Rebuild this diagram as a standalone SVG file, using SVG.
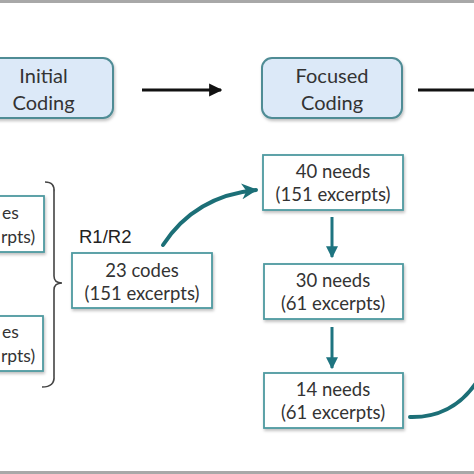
<svg xmlns="http://www.w3.org/2000/svg" width="474" height="474" viewBox="0 0 474 474">
<style>
.stage{fill:#dce9f8;stroke:#4f8c95;stroke-width:2}
.box{fill:#ffffff;stroke:#4e9aa0;stroke-width:1.8}
.t{font-family:Lato,"Open Sans","Liberation Sans",sans-serif;fill:#333;text-anchor:middle}
.s{text-anchor:start;font-size:17.5px}
.st{font-size:20px}
.bt{font-size:18.5px}
.blk{fill:none;stroke:#111;stroke-width:3}
.teal{fill:none;stroke:#1c6f77;stroke-width:4;stroke-linecap:round}
.tealv{fill:none;stroke:#1e7480;stroke-width:3}
</style>
<defs>
<filter id="sh" x="-10%" y="-10%" width="130%" height="140%">
<feDropShadow dx="1" dy="2" stdDeviation="1.5" flood-color="#000" flood-opacity="0.25"/>
</filter>
<marker id="ab" viewBox="0 0 10 10" refX="9" refY="5" markerWidth="4.4" markerHeight="5" markerUnits="strokeWidth" orient="auto">
<path d="M0,0 L10,5 L0,10 z" fill="#111"/>
</marker>
<marker id="at" viewBox="0 0 10 10" refX="9" refY="5" markerWidth="4" markerHeight="4" markerUnits="strokeWidth" orient="auto">
<path d="M0,0 L10,5 L0,10 L3,5 z" fill="#1c6f77"/>
</marker>
<marker id="av" viewBox="0 0 10 10" refX="9" refY="5" markerWidth="4" markerHeight="4" markerUnits="strokeWidth" orient="auto">
<path d="M0,0 L10,5 L0,10 z" fill="#1e7480"/>
</marker>
</defs>
<rect x="0" y="0" width="474" height="474" fill="#ffffff"/>
<rect x="0" y="0" width="474" height="3" fill="#a8a8a8"/>
<rect x="0" y="471" width="474" height="3" fill="#a8a8a8"/>

<g id="initial-coding">
<rect class="stage" x="-27" y="58" width="140" height="60" rx="10" filter="url(#sh)"/>
<text class="t st" x="43.5" y="83">Initial</text>
<text class="t st" x="43.5" y="110">Coding</text>
</g>
<g id="focused-coding">
<rect class="stage" x="262" y="58" width="140" height="60" rx="10" filter="url(#sh)"/>
<text class="t st" x="332" y="83">Focused</text>
<text class="t st" x="332" y="110">Coding</text>
</g>
<g id="left-box-1">
<rect class="box" x="-100" y="196" width="144" height="56" filter="url(#sh)"/>
<text class="t s" x="2" y="219">es</text>
<text class="t s" x="1" y="243">rpts)</text>
</g>
<g id="left-box-2">
<rect class="box" x="-100" y="316" width="143" height="55" filter="url(#sh)"/>
<text class="t s" x="2" y="338">es</text>
<text class="t s" x="1" y="362">rpts)</text>
</g>
<g id="r1r2-label">
<text x="79" y="243" font-family="'Liberation Sans',Arial,sans-serif" font-size="18.5" fill="#222">R1/R2</text>
</g>
<g id="codes-23">
<rect class="box" x="72" y="253" width="140" height="55" filter="url(#sh)"/>
<text class="t bt" x="142" y="277">23 codes</text>
<text class="t bt" x="142" y="300">(151 excerpts)</text>
</g>
<g id="needs-40">
<rect class="box" x="263" y="155" width="140" height="55" filter="url(#sh)"/>
<text class="t bt" x="333" y="178">40 needs</text>
<text class="t bt" x="333" y="201">(151 excerpts)</text>
</g>
<g id="needs-30">
<rect class="box" x="264" y="264" width="139" height="55" filter="url(#sh)"/>
<text class="t bt" x="333" y="287">30 needs</text>
<text class="t bt" x="333" y="310">(61 excerpts)</text>
</g>
<g id="needs-14">
<rect class="box" x="264" y="373" width="139" height="55" filter="url(#sh)"/>
<text class="t bt" x="333" y="396">14 needs</text>
<text class="t bt" x="333" y="419">(61 excerpts)</text>
</g>

<g id="connectors">
<path d="M45,182 Q55,182 54,192 L54,276 Q54,283 62,283 Q54,283 54,290 L54,376 Q55,387 42,387" fill="none" stroke="#444" stroke-width="1.6"/>
<line class="blk" x1="142" y1="90" x2="221" y2="90" marker-end="url(#ab)"/>
<line class="blk" x1="418" y1="90" x2="480" y2="90"/>
<path class="teal" d="M163,245 Q195,196 256,190" marker-end="url(#at)"/>
<line class="tealv" x1="332" y1="217" x2="332" y2="257" marker-end="url(#av)"/>
<line class="tealv" x1="332" y1="327" x2="332" y2="368" marker-end="url(#av)"/>
<path class="teal" d="M410,417 Q452,418 476,383"/>
</g>
</svg>
